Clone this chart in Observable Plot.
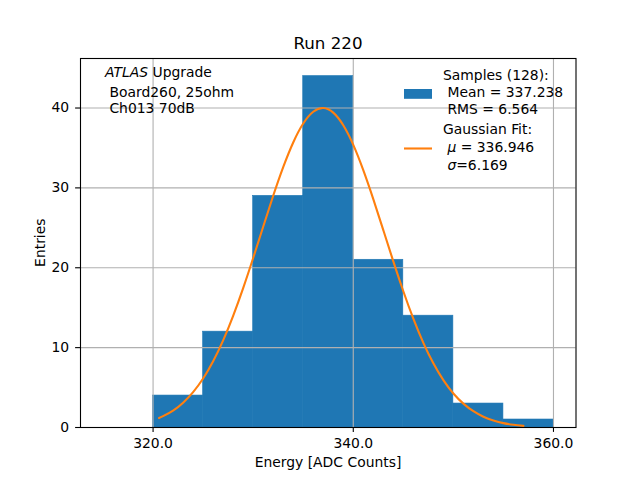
<!DOCTYPE html>
<html><head><meta charset="utf-8">
<script src="https://cdn.jsdelivr.net/npm/d3@7"></script>
<script src="https://cdn.jsdelivr.net/npm/@observablehq/plot@0.6"></script>
<style>
body{margin:0;background:#fff}
svg{font-family:"DejaVu Sans",sans-serif;white-space:pre}
</style>
</head><body><div id="chart"></div>
<script>
// Histogram bins (ADC counts) and entries
const binStarts = [315, 320, 325, 330, 335, 340, 345, 350, 355];
const binEnds   = [320, 325, 330, 335, 340, 345, 350, 355, 360];
const counts    = [0, 4, 12, 29, 44, 21, 14, 3, 1];

// Gaussian fit curve
const fitX = [320.6,321,322,323,324,325,326,327,328,329,330,331,332,333,334,335,336,337,338,339,340,341,342,343,344,345,346,347,348,349,350,351,352,353,354,355,356,357];
const fitY = [1.19,1.42,2.12,3.11,4.43,6.13,8.29,10.90,13.98,17.45,21.22,25.14,29.01,32.60,35.69,38.06,39.53,40.00,39.42,37.84,35.39,32.23,28.60,24.71,20.80,17.06,13.62,10.60,8.03,5.93,4.26,2.99,2.04,1.35,0.88,0.55,0.34,0.20];

const xTicks = [320, 340, 360];
const yTicks = [0, 10, 20, 30, 40];

const title = "Run 220";
const xLabel = "Energy [ADC Counts]";
const yLabel = "Entries";
const infoLines = ["ATLAS| Upgrade", " Board260, 25ohm", " Ch013 70dB"];
const histLegend = ["Samples (128):", " Mean = 337.238", " RMS = 6.564"];
const fitLegend = ["Gaussian Fit:", " |μ| = 336.946", " |σ|=6.169"];

const bars = binStarts.map((s, i) => ({x1: s, x2: binEnds[i], y: counts[i]})).filter(d => d.y > 0);
const fit = fitX.map((x, i) => ({x, y: fitY[i]}));

const blue = "#1f77b4", orange = "#ff7f0e", grid = "#b0b0b0";
const fs = 13.9;

const plot = Plot.plot({
  width: 640, height: 480,
  marginLeft: 80, marginRight: 64.5, marginTop: 58, marginBottom: 53,
  style: {fontFamily: "DejaVu Sans", fontSize: fs + "px", background: "#fff", overflow: "visible"},
  x: {domain: [312.75, 362.25], label: null},
  y: {domain: [0, 46.2], label: null},
  marks: [
    Plot.rectY(bars, {x1: "x1", x2: "x2", y: "y", fill: blue, stroke: blue, strokeWidth: 0.6, insetLeft: 0, insetRight: 0}),
    Plot.gridX(xTicks, {stroke: grid, strokeOpacity: 1, strokeWidth: 1.1}),
    Plot.gridY(yTicks, {stroke: grid, strokeOpacity: 1, strokeWidth: 1.1}),
    Plot.line(fit, {x: "x", y: "y", stroke: orange, strokeWidth: 2.1, curve: "natural"}),
    Plot.frame({stroke: "black", strokeWidth: 1.1}),
    Plot.axisX(xTicks, {tickFormat: d => d.toFixed(1), tickSize: 4.9, tickPadding: 6, fontSize: fs, strokeWidth: 1.1, label: null}),
    Plot.axisY(yTicks, {tickSize: 4.9, tickPadding: 6.5, fontSize: fs, strokeWidth: 1.1, label: null})
  ]
});

document.getElementById("chart").appendChild(plot);
const svg = d3.select(plot);

function richText(g, str, x, y, opts = {}) {
  const t = g.append("text").attr("x", x).attr("y", y)
    .attr("font-size", opts.size || fs).attr("fill", "black")
    .attr("text-anchor", opts.anchor || "start")
    .style("white-space", "pre");
  const parts = str.split("|");
  parts.forEach((p, i) => {
    if (!p) return;
    const italic = (str.startsWith("ATLAS") && i === 0) || (!str.startsWith("ATLAS") && i === 1);
    t.append("tspan").attr("font-style", italic ? "italic" : "normal").text(p);
  });
  return t;
}

const ann = svg.append("g");
// title and axis labels
richText(ann, title, 328, 49, {size: 16.7, anchor: "middle"});
richText(ann, xLabel, 328, 467, {anchor: "middle"});
ann.append("text").attr("transform", "translate(45,242.7) rotate(-90)")
  .attr("text-anchor", "middle").attr("font-size", fs).text(yLabel);

// top-left info
infoLines.forEach((l, i) => richText(ann, l, 105, [77, 96.5, 113][i]));

// legend
const lgY = [80, 97, 114, 134, 152, 170];
histLegend.forEach((l, i) => richText(ann, l, 443, lgY[i]));
fitLegend.forEach((l, i) => richText(ann, l, 443, lgY[i + 3]));
ann.append("rect").attr("x", 404).attr("y", 89).attr("width", 28).attr("height", 9.8).attr("fill", blue);
ann.append("line").attr("x1", 404).attr("x2", 432).attr("y1", 148.5).attr("y2", 148.5)
  .attr("stroke", orange).attr("stroke-width", 2.1);
</script>
</body></html>
